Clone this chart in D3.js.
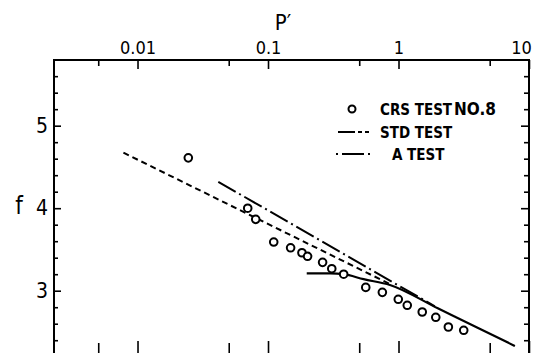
<!DOCTYPE html>
<html>
<head>
<meta charset="utf-8">
<script src="https://cdn.jsdelivr.net/npm/d3@7"></script>
<style>
  body { margin: 0; background: #fff; }
  svg { display: block; }
  text { font-family: "Liberation Sans Narrow", "Arial Narrow", "DejaVu Sans Condensed", sans-serif; fill: #000; }
</style>
</head>
<body>
<svg id="chart" width="534" height="353"></svg>
<script>
// axis ticks
const xMajorTicks = [0.01, 0.1, 1, 10];
const xTickLabels = ["0.01", "0.1", "1", "10"];
const xMinorTicks = [0.005, 0.05, 0.5, 5];
const yMajorTicks = [3, 4, 5];
const yMinorTicks = [2.4, 2.6, 2.8, 3.2, 3.4, 3.6, 3.8, 4.2, 4.4, 4.6, 4.8, 5.2, 5.4, 5.6];

// CRS test No.8 (circles)
const crsP = [0.0245, 0.0699, 0.0805, 0.1106, 0.149, 0.182, 0.201, 0.262, 0.308, 0.380, 0.561, 0.752, 0.996, 1.167, 1.52, 1.93, 2.41, 3.16];
const crsF = [4.61, 4.00, 3.865, 3.59, 3.52, 3.46, 3.417, 3.344, 3.267, 3.20, 3.04, 2.98, 2.896, 2.823, 2.742, 2.678, 2.56, 2.52];

// STD test: measured (solid) and extrapolated (dashed)
const stdSolidP = [0.198, 0.30, 0.38, 0.54, 0.86, 2.0, 4.0, 7.8];
const stdSolidF = [3.21, 3.21, 3.20, 3.14, 3.07, 2.787, 2.555, 2.33];
const stdDashP = [0.0078, 0.86];
const stdDashF = [4.673, 3.08];

// A test (dash-dot)
const aTestP = [0.0416, 1.9];
const aTestF = [4.32, 2.81];

const svg = d3.select("#chart");
const plotL = 54, plotR = 529, plotT = 60, plotB = 354;

const x = d3.scaleLog().domain([Math.pow(10, -2.64), 10]).range([plotL, plotR]);
const y = d3.scaleLinear().domain([2.233, 5.796]).range([plotB, plotT]);

const zip = (a, b) => a.map((v, i) => [v, b[i]]);

// frame
svg.append("rect")
  .attr("x", plotL).attr("y", plotT)
  .attr("width", plotR - plotL).attr("height", plotB - plotT)
  .attr("fill", "none").attr("stroke", "#000").attr("stroke-width", 2);

function styleAxis(g) {
  g.select(".domain").remove();
  g.selectAll(".tick line").attr("stroke", "#000").attr("stroke-width", 1.6);
  g.selectAll(".tick text").attr("fill", "#000");
}

// top axis
svg.append("g")
  .attr("transform", `translate(0,${plotT})`)
  .call(d3.axisTop(x).tickValues(xMajorTicks).tickSizeInner(-9).tickSizeOuter(0).tickPadding(6)
    .tickFormat((d, i) => xTickLabels[i]))
  .call(styleAxis)
  .selectAll("text")
  .style("font-size", "18px")
  .attr("dx", d => d === 10 ? -8 : 0);
svg.append("g")
  .attr("transform", `translate(0,${plotT})`)
  .call(d3.axisTop(x).tickValues(xMinorTicks).tickSizeInner(-6).tickSizeOuter(0).tickFormat(""))
  .call(styleAxis);

// bottom axis
svg.append("g")
  .attr("transform", `translate(0,${plotB})`)
  .call(d3.axisBottom(x).tickValues(xMajorTicks).tickSizeInner(-13).tickSizeOuter(0).tickFormat(""))
  .call(styleAxis);
svg.append("g")
  .attr("transform", `translate(0,${plotB})`)
  .call(d3.axisBottom(x).tickValues(xMinorTicks).tickSizeInner(-11).tickSizeOuter(0).tickFormat(""))
  .call(styleAxis);

// left axis
svg.append("g")
  .attr("transform", `translate(${plotL},0)`)
  .call(d3.axisLeft(y).tickValues(yMajorTicks).tickSizeInner(-7).tickSizeOuter(0).tickPadding(6)
    .tickFormat(d3.format("d")))
  .call(styleAxis)
  .selectAll("text").style("font-size", "21px");
svg.append("g")
  .attr("transform", `translate(${plotL},0)`)
  .call(d3.axisLeft(y).tickValues(yMinorTicks).tickSizeInner(-4).tickSizeOuter(0).tickFormat(""))
  .call(styleAxis);

// right axis
svg.append("g")
  .attr("transform", `translate(${plotR},0)`)
  .call(d3.axisRight(y).tickValues(yMajorTicks).tickSizeInner(-8).tickSizeOuter(0).tickFormat(""))
  .call(styleAxis);
svg.append("g")
  .attr("transform", `translate(${plotR},0)`)
  .call(d3.axisRight(y).tickValues(yMinorTicks).tickSizeInner(-5).tickSizeOuter(0).tickFormat(""))
  .call(styleAxis);

// axis titles
svg.append("text")
  .attr("x", 283).attr("y", 30)
  .attr("text-anchor", "middle")
  .style("font-size", "22px")
  .text("P\u2032");
svg.append("text")
  .attr("x", 19).attr("y", 214)
  .attr("text-anchor", "middle")
  .style("font-size", "24px")
  .text("f");

// lines
const line = d3.line().x(d => x(d[0])).y(d => y(d[1]));

svg.append("path")
  .datum(zip(stdDashP, stdDashF))
  .attr("fill", "none").attr("stroke", "#000").attr("stroke-width", 2)
  .attr("stroke-dasharray", "6,4")
  .attr("d", line);

svg.append("path")
  .datum(zip(aTestP, aTestF))
  .attr("fill", "none").attr("stroke", "#000").attr("stroke-width", 2)
  .attr("stroke-dasharray", "20,4,2,4")
  .attr("d", line);

svg.append("path")
  .datum(zip(stdSolidP, stdSolidF))
  .attr("fill", "none").attr("stroke", "#000").attr("stroke-width", 2.2)
  .attr("d", line.curve(d3.curveMonotoneX));

// CRS points
svg.append("g")
  .selectAll("circle")
  .data(zip(crsP, crsF))
  .join("circle")
  .attr("cx", d => x(d[0]))
  .attr("cy", d => y(d[1]))
  .attr("r", 3.8)
  .attr("fill", "#fff")
  .attr("stroke", "#000")
  .attr("stroke-width", 2);

// legend
const lg = svg.append("g").style("font-weight", "bold");
lg.append("circle").attr("cx", 352).attr("cy", 109).attr("r", 3.5)
  .attr("fill", "#fff").attr("stroke", "#000").attr("stroke-width", 2);
lg.append("text").attr("x", 380).attr("y", 115).style("font-size", "15px").text("CRS TEST");
lg.append("text").attr("x", 454).attr("y", 115).style("font-size", "17px").text("NO.8");

lg.append("line").attr("x1", 338).attr("x2", 355).attr("y1", 132).attr("y2", 132)
  .attr("stroke", "#000").attr("stroke-width", 2);
lg.append("line").attr("x1", 358).attr("x2", 369).attr("y1", 132).attr("y2", 132)
  .attr("stroke", "#000").attr("stroke-width", 2).attr("stroke-dasharray", "4,3");
lg.append("text").attr("x", 380).attr("y", 138).style("font-size", "15px").text("STD TEST");

lg.append("line").attr("x1", 336).attr("x2", 371).attr("y1", 154).attr("y2", 154)
  .attr("stroke", "#000").attr("stroke-width", 2).attr("stroke-dasharray", "2,4,22,4");
lg.append("text").attr("x", 392).attr("y", 160).style("font-size", "15px").text("A");
lg.append("text").attr("x", 407).attr("y", 160).style("font-size", "15px").text("TEST");
</script>
</body>
</html>
